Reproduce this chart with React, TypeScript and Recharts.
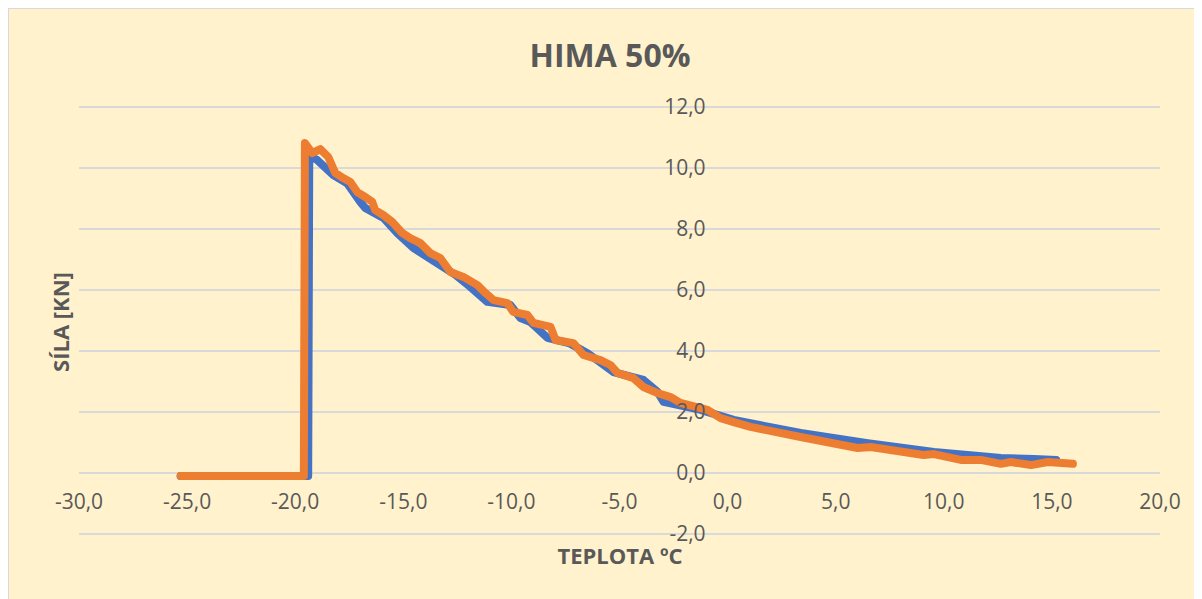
import React from 'react';
import { LineChart, Line, XAxis, YAxis, CartesianGrid } from 'recharts';

// teplota [°C], síla [kN]
const series1: [number, number][] = [
  [-25.3, -0.1], [-19.4, -0.1], [-19.35, 10.4], [-18.98, 10.26], [-18.24, 9.77],
  [-17.6, 9.5], [-16.99, 8.89], [-16.76, 8.69], [-15.9, 8.35], [-15.28, 7.87],
  [-14.54, 7.38], [-13.15, 6.75], [-12.6, 6.5], [-11.9, 6.1], [-11.11, 5.61],
  [-10.05, 5.51], [-9.58, 5.08], [-9.12, 4.95], [-8.33, 4.43], [-7.3, 4.25],
  [-6.48, 3.93], [-5.28, 3.31], [-3.89, 3.05], [-3.24, 2.66], [-2.96, 2.33],
  [-1.25, 2.07], [0.28, 1.74], [3.38, 1.31], [6.48, 0.98], [9.54, 0.69],
  [12.64, 0.49], [14.17, 0.46], [15.2, 0.43],
];

const series2: [number, number][] = [
  [-25.3, -0.1], [-19.6, -0.1], [-19.55, 10.82], [-19.21, 10.49], [-18.84, 10.62],
  [-18.47, 10.36], [-18.15, 9.84], [-17.78, 9.67], [-17.45, 9.54], [-17.13, 9.21],
  [-16.76, 9.05], [-16.44, 8.89], [-16.3, 8.62], [-15.93, 8.46], [-15.51, 8.23],
  [-15.05, 7.87], [-14.68, 7.7], [-14.21, 7.54], [-13.75, 7.21], [-13.29, 7.05],
  [-12.82, 6.59], [-12.22, 6.43], [-11.57, 6.16], [-11.2, 5.9], [-10.83, 5.67],
  [-10.19, 5.57], [-9.91, 5.28], [-9.26, 5.18], [-8.98, 4.92], [-8.19, 4.79],
  [-7.96, 4.36], [-7.13, 4.26], [-6.67, 3.87], [-5.88, 3.7], [-5.42, 3.54],
  [-5.09, 3.28], [-4.35, 3.11], [-3.89, 2.82], [-3.24, 2.62], [-2.64, 2.49],
  [-2.18, 2.3], [-0.93, 2.07], [-0.32, 1.8], [0.28, 1.67], [1.06, 1.51],
  [3.38, 1.18], [6.02, 0.82], [6.62, 0.85], [9.07, 0.59], [9.54, 0.62],
  [10.79, 0.43], [11.71, 0.43], [12.64, 0.3], [13.1, 0.36], [14.03, 0.26],
  [14.81, 0.36], [15.97, 0.3],
];

const xTicks = [-30, -25, -20, -15, -10, -5, 0, 5, 10, 15, 20];
const yTicks = [-2, 0, 2, 4, 6, 8, 10, 12];

const toRows = (s: [number, number][]) => s.map(([t, f]) => ({ t, f }));

const W = 1193;
const H = 590;
const M = { top: 98, right: 42, bottom: 64, left: 69 };
const plotW = W - 70 - M.right;
const plotH = H - M.top - 65;
// where the axes cross (x = 0, y = 0)
const zeroX = 70 + (plotW * (0 - xTicks[0])) / (xTicks[xTicks.length - 1] - xTicks[0]);
const zeroY = M.top + (plotH * yTicks[yTicks.length - 1]) / (yTicks[yTicks.length - 1] - yTicks[0]);

const fmt = (v: number) => v.toFixed(1).replace('.', ',');
const font = '"Open Sans", sans-serif';
const txt = '#595959';

const renderYTick = (props: any) => (
  <text key={props.index} x={zeroX - 22} y={props.y} dy="0.35em" textAnchor="end" fill={txt} fontSize={21} fontFamily={font}>
    {fmt(props.payload.value)}
  </text>
);

const renderXTick = (props: any) => (
  <text key={props.index} x={props.x} y={zeroY + 29} dy="0.35em" textAnchor="middle" fill={txt} fontSize={21} fontFamily={font}>
    {fmt(props.payload.value)}
  </text>
);

export default function App() {
  return (
    <div
      style={{
        position: 'relative',
        margin: '-1px 0 0 -1px',
        width: W,
        height: H,
        background: '#FFF2CC',
        borderLeft: '2px solid #D9D9D9',
        borderTop: '2px solid #D9D9D9',
        fontFamily: font,
        color: txt,
      }}
    >
      <LineChart width={W} height={H} margin={M}>
        <CartesianGrid vertical={false} stroke="#D9D9D9" strokeWidth={2} />
        <XAxis
          type="number"
          dataKey="t"
          domain={[xTicks[0], xTicks[xTicks.length - 1]]}
          ticks={xTicks}
          height={1}
          axisLine={false}
          tickLine={false}
          tick={renderXTick}
          interval={0}
          allowDataOverflow
        />
        <YAxis
          type="number"
          domain={[yTicks[0], yTicks[yTicks.length - 1]]}
          ticks={yTicks}
          width={1}
          axisLine={false}
          tickLine={false}
          tick={renderYTick}
          interval={0}
        />
        <Line data={toRows(series1)} dataKey="f" type="linear" stroke="#4472C4" strokeWidth={8}
          strokeLinejoin="round" strokeLinecap="round" dot={false} isAnimationActive={false} />
        <Line data={toRows(series2)} dataKey="f" type="linear" stroke="#ED7D31" strokeWidth={8}
          strokeLinejoin="round" strokeLinecap="round" dot={false} isAnimationActive={false} />
      </LineChart>
      <div style={{ position: 'absolute', left: 0, top: 26, width: 1202, textAlign: 'center', fontSize: 32, fontWeight: 700, lineHeight: '40px' }}>
        HIMA 50%
      </div>
      <div style={{ position: 'absolute', left: 51, top: 313, transform: 'translate(-50%, -50%) rotate(-90deg)', fontSize: 22, fontWeight: 700, whiteSpace: 'nowrap' }}>
        SÍLA [KN]
      </div>
      <div style={{ position: 'absolute', left: 611, top: 546, transform: 'translate(-50%, -50%)', fontSize: 22, fontWeight: 700, whiteSpace: 'nowrap' }}>
        TEPLOTA ºC
      </div>
    </div>
  );
}
